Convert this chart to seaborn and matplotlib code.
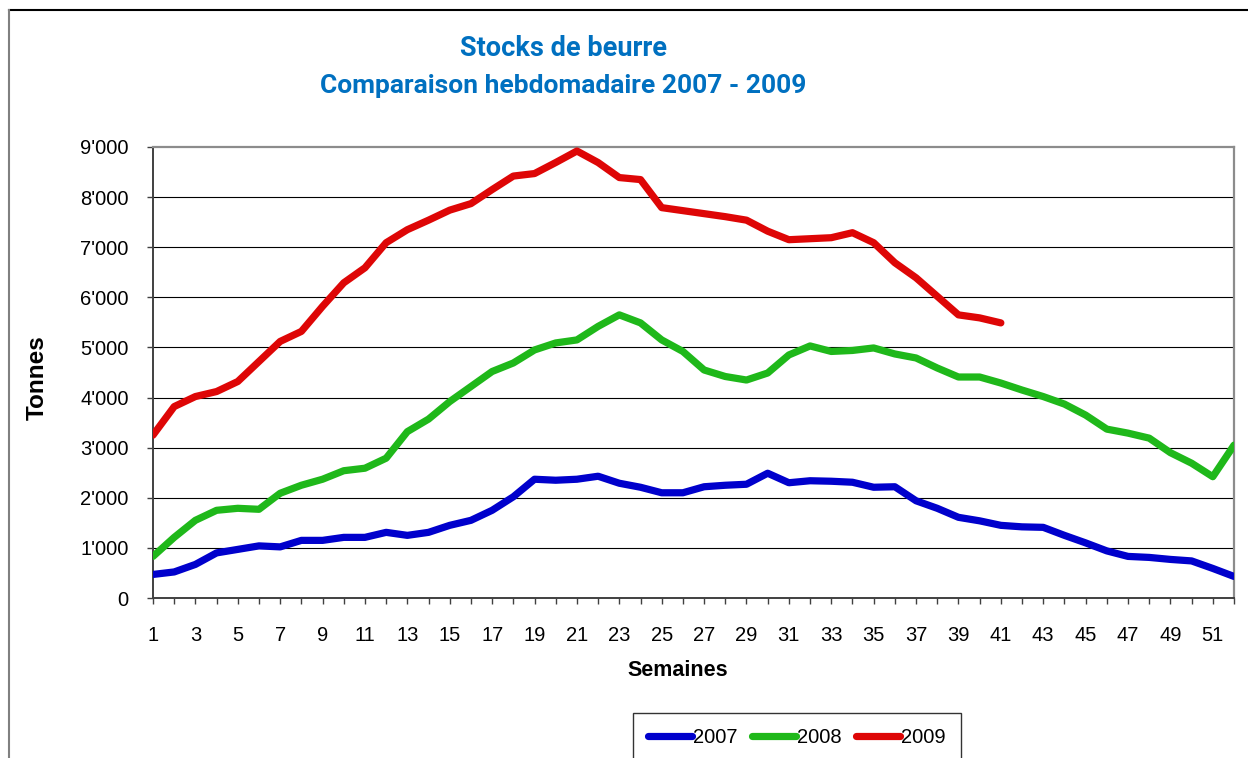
import matplotlib
matplotlib.use("Agg")
import matplotlib.pyplot as plt
from matplotlib.lines import Line2D
import seaborn as sns
import pandas as pd

weeks = list(range(1, 53))
v2007 = [470, 520, 670, 900, 970, 1040, 1020, 1150, 1150, 1210, 1210, 1310, 1250,
         1310, 1450, 1550, 1750, 2020, 2370, 2350, 2370, 2430, 2290, 2210, 2100, 2100,
         2220, 2250, 2270, 2490, 2300, 2340, 2330, 2310, 2210, 2220, 1940, 1790, 1610,
         1540, 1450, 1420, 1410, 1250, 1100, 940, 830, 810, 770, 740, 590, 430]
v2008 = [830, 1210, 1550, 1750, 1790, 1770, 2090, 2250, 2370, 2540, 2590, 2790, 3320,
         3570, 3920, 4220, 4520, 4690, 4950, 5090, 5150, 5420, 5650, 5490, 5150, 4920,
         4550, 4420, 4350, 4490, 4850, 5030, 4920, 4940, 4990, 4870, 4790, 4590, 4410,
         4410, 4290, 4150, 4020, 3870, 3650, 3370, 3290, 3190, 2900, 2690, 2420, 3050]
v2009 = [3250, 3820, 4020, 4120, 4320, 4720, 5120, 5320, 5820, 6290, 6590, 7090, 7350,
         7540, 7740, 7870, 8150, 8420, 8470, 8690, 8920, 8690, 8390, 8350, 7790, 7730,
         7670, 7610, 7540, 7320, 7150, 7170, 7190, 7290, 7090, 6690, 6390, 6020, 5650,
         5590, 5490]
years = ["2007", "2008", "2009"]
colors = ["#0000CC", "#1FB81A", "#DE0606"]
y_ticks = [0, 1000, 2000, 3000, 4000, 5000, 6000, 7000, 8000, 9000]
y_labels = ["0", "1'000", "2'000", "3'000", "4'000", "5'000", "6'000", "7'000", "8'000", "9'000"]
x_labels = [str(w) if w % 2 == 1 else "" for w in weeks]
title1 = "Stocks de beurre"
title2 = "Comparaison hebdomadaire 2007 - 2009"

rows = []
for yr, vals in zip(years, [v2007, v2008, v2009]):
    for w, v in zip(weeks, vals):
        rows.append({"Semaine": w, "Tonnes": v, "Année": yr})
df = pd.DataFrame(rows)

plt.rcParams["font.family"] = ["Liberation Sans", "DejaVu Sans"]

W, H = 1248, 758
fig = plt.figure(figsize=(W / 100, H / 100), dpi=100)
ax = fig.add_axes([153 / W, 1 - 598 / H, (1234 - 153) / W, (598 - 147) / H])

# gridlines
for yv in y_ticks[1:-1]:
    ax.axhline(yv, color="#000000", lw=0.8, zorder=0)

sns.lineplot(data=df, x="Semaine", y="Tonnes", hue="Année",
             palette=dict(zip(years, colors)), linewidth=5.2, ax=ax,
             legend=False, solid_joinstyle="round", solid_capstyle="round",
             zorder=3)

ax.set_xlim(1, 52)
ax.set_ylim(0, 9000)
ax.set_xticks(weeks)
ax.set_xticklabels(x_labels, fontsize=14.5)
ax.set_yticks(y_ticks)
ax.set_yticklabels(y_labels, fontsize=14.5)
ax.set_xlabel("")
ax.set_ylabel("")
ax.tick_params(axis="y", length=4.5, width=1.0, color="#404040", pad=13)
ax.tick_params(axis="x", length=4.5, width=1.0, color="#404040", pad=16)

for s in ["top", "right"]:
    ax.spines[s].set_color("#8C8C8C")
    ax.spines[s].set_linewidth(1.6)
for s in ["left", "bottom"]:
    ax.spines[s].set_color("#404040")
    ax.spines[s].set_linewidth(1.4)

# titles and axis labels
fig.text(563 / W, 1 - 49 / H, title1, ha="center", va="center",
         fontfamily="Roboto", fontweight="bold", fontsize=19.5, color="#0070C0")
fig.text(563 / W, 1 - 86 / H, title2, ha="center", va="center",
         fontfamily="Roboto", fontweight="bold", fontsize=19, color="#0070C0")
fig.text(678 / W, 1 - 670 / H, "Semaines", ha="center", va="center",
         fontweight="bold", fontsize=15.5)
fig.text(37 / W, 1 - 378 / H, "Tonnes", ha="center", va="center",
         rotation=90, fontweight="bold", fontsize=17.5)

# legend
handles = [Line2D([0], [0], color=c, lw=5.2, solid_capstyle="round") for c in colors]
leg = fig.legend(handles, years, loc="upper left",
                 bbox_to_anchor=(633 / W, 1 - 713 / H), ncol=3,
                 prop={"size": 14.5},
                 frameon=True, fancybox=False, edgecolor="#000000",
                 handlelength=2.2, handletextpad=0.05, columnspacing=0.7,
                 borderpad=0.75, borderaxespad=0)
leg.get_frame().set_linewidth(1.0)

# outer chart border
fig.add_artist(Line2D([9 / W, 1.0], [1 - 10 / H, 1 - 10 / H], color="#000000",
                      lw=1.5, transform=fig.transFigure))
fig.add_artist(Line2D([9 / W, 9 / W], [0, 1 - 10 / H], color="#808080",
                      lw=1.5, transform=fig.transFigure))

fig.savefig("out.png", dpi=100, facecolor="white")
